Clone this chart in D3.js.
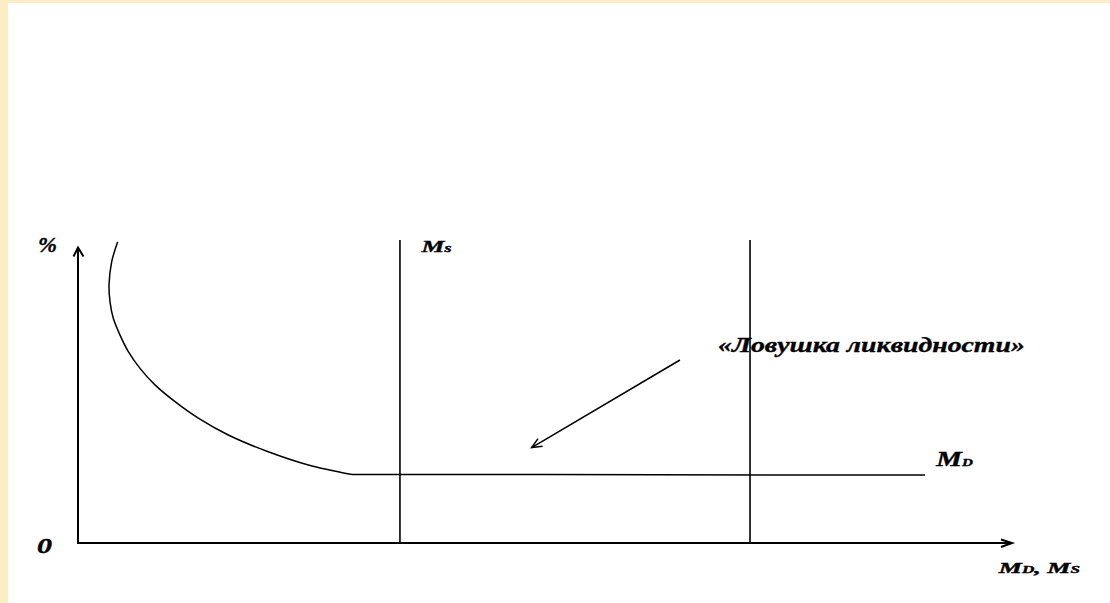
<!DOCTYPE html>
<html>
<head>
<meta charset="utf-8">
<script src="https://cdn.jsdelivr.net/npm/d3@7"></script>
<style>
  html, body { margin: 0; padding: 0; background: #ffffff; }
  svg { display: block; }
</style>
</head>
<body>
<svg id="chart" width="1110" height="603"></svg>
<script>
// ---- data (abstract units) ----
const demandX = [0.425, 0.361, 0.332, 0.343, 0.378, 0.45, 0.539, 0.664, 0.824, 1.039, 1.288, 1.609, 2.037, 2.466, 2.933, 5.0, 7.5, 9.069];
const demandY = [10.04, 9.38, 8.6, 8.04, 7.49, 6.93, 6.38, 5.82, 5.27, 4.71, 4.16, 3.6, 3.04, 2.6, 2.28, 2.28, 2.27, 2.27];
const supplyX = [3.447, 7.195];
const supplyTop = 10.1;
const axisMax = [10, 9.85];
const trapArrow = [[6.445, 6.1], [4.857, 3.18]];
const labelTrap = "«Ловушка ликвидности»";
const labelMs = ["M", "s"];
const labelMd = ["M", "D"];
const labelAxisX = ["M", "D", ", ", "M", "S"];
const labelAxisY = "%";
const labelOrigin = "0";

const FONT = "'Liberation Serif', 'Times New Roman', Times, serif";
const svg = d3.select("#chart");
const W = 1110, H = 603;

// background border strips
svg.append("rect").attr("x", 0).attr("y", 0).attr("width", W).attr("height", H).attr("fill", "#ffffff");
svg.append("rect").attr("x", 0).attr("y", 0).attr("width", W).attr("height", 3).attr("fill", "#fcedc4");
svg.append("rect").attr("x", 0).attr("y", 0).attr("width", 8).attr("height", H).attr("fill", "#fcedc4");

const x = d3.scaleLinear().domain([0, 10]).range([78, 1012]);
const y = d3.scaleLinear().domain([0, 10]).range([543, 243]);

// axes
const axisG = svg.append("g");
axisG.append("line").attr("x1", x(0)).attr("y1", y(0) + 1).attr("x2", x(0)).attr("y2", y(axisMax[1]))
  .attr("stroke", "#000").attr("stroke-width", 2);
axisG.append("line").attr("x1", x(0)).attr("y1", y(0)).attr("x2", x(axisMax[0])).attr("y2", y(0))
  .attr("stroke", "#000").attr("stroke-width", 2);
axisG.append("path")
  .attr("d", `M${x(0) - 4.5},${y(axisMax[1]) + 9} L${x(0)},${y(axisMax[1])} L${x(0) + 5.5},${y(axisMax[1]) + 9}`)
  .attr("fill", "none").attr("stroke", "#000").attr("stroke-width", 2);
axisG.append("path")
  .attr("d", `M${x(axisMax[0]) - 11},${y(0) - 3.5} L${x(axisMax[0])},${y(0)} L${x(axisMax[0]) - 11},${y(0) + 4}`)
  .attr("fill", "none").attr("stroke", "#000").attr("stroke-width", 2);

// supply lines
svg.selectAll("line.supply").data(supplyX).join("line").attr("class", "supply")
  .attr("x1", d => x(d)).attr("x2", d => x(d))
  .attr("y1", y(supplyTop)).attr("y2", y(0))
  .attr("stroke", "#000").attr("stroke-width", 1.6);

// demand curve
const pts = demandX.map((d, i) => [d, demandY[i]]);
const curvePts = pts.slice(0, 15);
const flatPts = pts.slice(14);
svg.append("path")
  .attr("d", d3.line().x(d => x(d[0])).y(d => y(d[1])).curve(d3.curveCatmullRom.alpha(0.5))(curvePts))
  .attr("fill", "none").attr("stroke", "#000").attr("stroke-width", 1.5);
svg.append("path")
  .attr("d", d3.line().x(d => x(d[0])).y(d => y(d[1]))(flatPts))
  .attr("fill", "none").attr("stroke", "#000").attr("stroke-width", 1.5);

// trap arrow
const a0 = [x(trapArrow[0][0]), y(trapArrow[0][1])];
const a1 = [x(trapArrow[1][0]), y(trapArrow[1][1])];
svg.append("line").attr("x1", a0[0]).attr("y1", a0[1]).attr("x2", a1[0]).attr("y2", a1[1])
  .attr("stroke", "#000").attr("stroke-width", 1.5);
const ang = Math.atan2(a1[1] - a0[1], a1[0] - a0[0]);
const hl = 11, ha = 0.42;
svg.append("path")
  .attr("d", `M${a1[0] - hl * Math.cos(ang - ha)},${a1[1] - hl * Math.sin(ang - ha)} L${a1[0]},${a1[1]} L${a1[0] - hl * Math.cos(ang + ha)},${a1[1] - hl * Math.sin(ang + ha)}`)
  .attr("fill", "none").attr("stroke", "#000").attr("stroke-width", 1.5);

// labels: parts = [[text, size], ...]; stretched horizontally to target width
function label(parts, x0, base, targetW) {
  const g = svg.append("g");
  const t = g.append("text").attr("x", 0).attr("y", 0)
    .attr("font-family", FONT).attr("font-weight", "bold").attr("font-style", "italic")
    .attr("fill", "#000").attr("stroke", "#000").attr("stroke-width", 0.35);
  parts.forEach(p => t.append("tspan").attr("font-size", p[1]).text(p[0]));
  const bb = t.node().getBBox();
  const sx = targetW / bb.width;
  g.attr("transform", `translate(${x0 - bb.x * sx},${base}) scale(${sx},1)`);
  return g;
}

label([[labelAxisY, 21]], 38, 252, 19);
label([[labelOrigin, 20]], 37, 553, 15);
label([[labelMs[0], 17], [labelMs[1], 12]], 420, 252, 32);
label([[labelMd[0], 21], [labelMd[1], 11]], 935, 466, 38);
label([[labelAxisX[0], 14.5], [labelAxisX[1], 9.5], [labelAxisX[2], 14.5], [labelAxisX[3], 14.5], [labelAxisX[4], 9.5]], 997, 573, 83);
label([[labelTrap, 21]], 718, 352, 307);
</script>
</body>
</html>
